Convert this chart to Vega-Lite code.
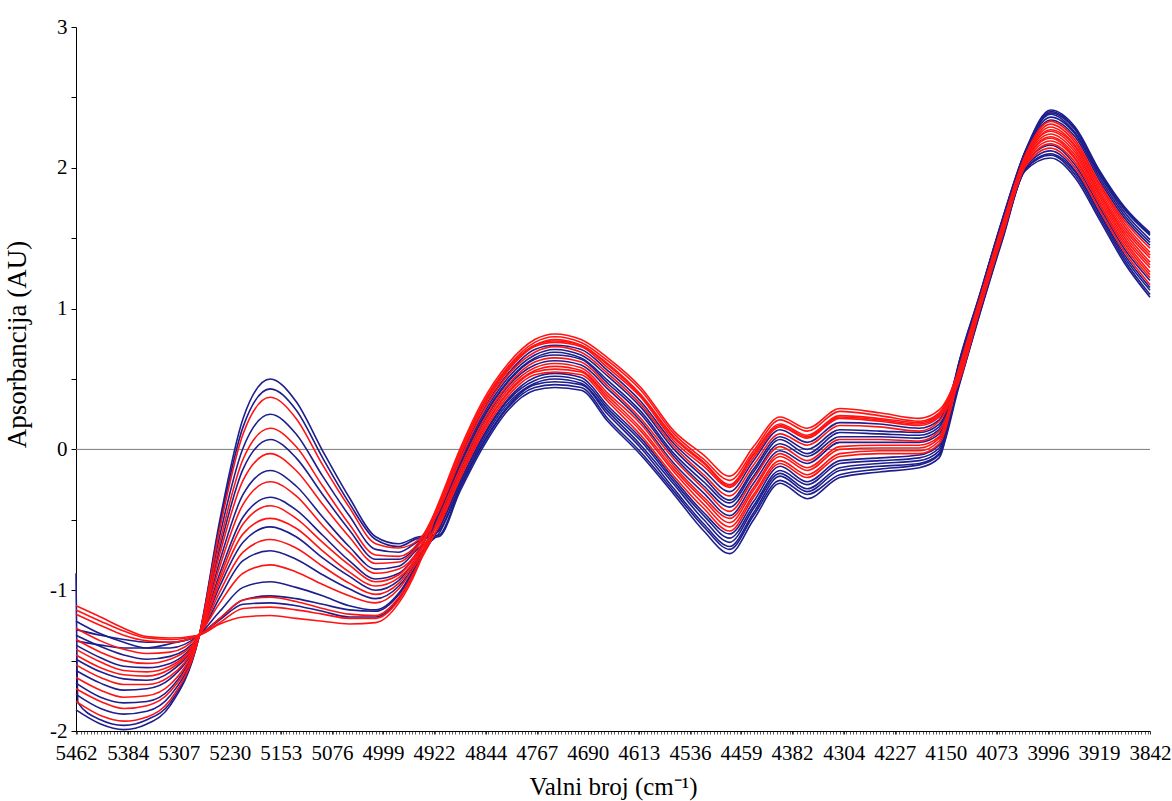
{
"$schema":"https://vega.github.io/schema/vega-lite/v6.json",
"width":1074,"height":704,
"autosize":{"type":"none"},
"padding":{"left":76,"top":27,"right":22,"bottom":70},
"config":{"view":{"stroke":null},"font":"Liberation Serif, Times New Roman, serif","axis":{"labelFont":"Liberation Serif, Times New Roman, serif","titleFont":"Liberation Serif, Times New Roman, serif"}},
"data":{"values":[
{"s":"b01","w":5462,"v":-1.85},{"s":"b01","w":5425,"v":-1.95},{"s":"b01","w":5390,"v":-1.99},{"s":"b01","w":5355,"v":-1.95},{"s":"b01","w":5320,"v":-1.82},{"s":"b01","w":5277,"v":-1.34},{"s":"b01","w":5245,"v":-0.5},{"s":"b01","w":5210,"v":0.22},{"s":"b01","w":5169,"v":0.5},{"s":"b01","w":5130,"v":0.34},{"s":"b01","w":5090,"v":-0.01},{"s":"b01","w":5050,"v":-0.34},{"s":"b01","w":5010,"v":-0.62},{"s":"b01","w":4975,"v":-0.67},{"s":"b01","w":4945,"v":-0.62},
{"s":"b01","w":4915,"v":-0.61},{"s":"b01","w":4883,"v":-0.28},{"s":"b01","w":4850,"v":0.02},{"s":"b01","w":4810,"v":0.3},{"s":"b01","w":4770,"v":0.44},{"s":"b01","w":4740,"v":0.46},{"s":"b01","w":4700,"v":0.44},{"s":"b01","w":4660,"v":0.22},{"s":"b01","w":4610,"v":-0.02},{"s":"b01","w":4560,"v":-0.3},{"s":"b01","w":4515,"v":-0.55},{"s":"b01","w":4476,"v":-0.71},{"s":"b01","w":4440,"v":-0.47},{"s":"b01","w":4400,"v":-0.22},{"s":"b01","w":4359,"v":-0.32},{"s":"b01","w":4310,"v":-0.18},{"s":"b01","w":4250,"v":-0.14},{"s":"b01","w":4190,"v":-0.11},{"s":"b01","w":4160,"v":-0.04},
{"s":"b01","w":4130,"v":0.61},{"s":"b01","w":4100,"v":1.07},{"s":"b01","w":4065,"v":1.62},{"s":"b01","w":4030,"v":2.11},{"s":"b01","w":3992,"v":2.39},{"s":"b01","w":3955,"v":2.27},{"s":"b01","w":3918,"v":1.96},{"s":"b01","w":3880,"v":1.7},{"s":"b01","w":3842,"v":1.52},
{"s":"b02","w":5462,"v":-0.88},{"s":"b02","w":5459,"v":-1.8},{"s":"b02","w":5425,"v":-1.92},{"s":"b02","w":5390,"v":-1.96},{"s":"b02","w":5355,"v":-1.92},{"s":"b02","w":5320,"v":-1.8},{"s":"b02","w":5277,"v":-1.34},{"s":"b02","w":5245,"v":-0.53},{"s":"b02","w":5210,"v":0.16},{"s":"b02","w":5169,"v":0.43},{"s":"b02","w":5130,"v":0.28},{"s":"b02","w":5090,"v":-0.06},{"s":"b02","w":5050,"v":-0.38},{"s":"b02","w":5010,"v":-0.64},{"s":"b02","w":4975,"v":-0.69},{"s":"b02","w":4945,"v":-0.63},
{"s":"b02","w":4915,"v":-0.62},{"s":"b02","w":4883,"v":-0.3},{"s":"b02","w":4850,"v":0},{"s":"b02","w":4810,"v":0.28},{"s":"b02","w":4770,"v":0.42},{"s":"b02","w":4740,"v":0.44},{"s":"b02","w":4700,"v":0.42},{"s":"b02","w":4660,"v":0.2},{"s":"b02","w":4610,"v":-0.04},{"s":"b02","w":4560,"v":-0.32},{"s":"b02","w":4515,"v":-0.58},{"s":"b02","w":4476,"v":-0.74},{"s":"b02","w":4440,"v":-0.5},{"s":"b02","w":4400,"v":-0.24},{"s":"b02","w":4359,"v":-0.35},{"s":"b02","w":4310,"v":-0.2},{"s":"b02","w":4250,"v":-0.16},{"s":"b02","w":4190,"v":-0.13},{"s":"b02","w":4160,"v":-0.06},
{"s":"b02","w":4130,"v":0.62},{"s":"b02","w":4100,"v":1.08},{"s":"b02","w":4065,"v":1.63},{"s":"b02","w":4030,"v":2.12},{"s":"b02","w":3992,"v":2.41},{"s":"b02","w":3955,"v":2.29},{"s":"b02","w":3918,"v":1.98},{"s":"b02","w":3880,"v":1.72},{"s":"b02","w":3842,"v":1.54},
{"s":"b04","w":5462,"v":-1.74},{"s":"b04","w":5425,"v":-1.84},{"s":"b04","w":5390,"v":-1.88},{"s":"b04","w":5355,"v":-1.86},{"s":"b04","w":5320,"v":-1.75},{"s":"b04","w":5277,"v":-1.34},{"s":"b04","w":5245,"v":-0.61},{"s":"b04","w":5210,"v":0.01},{"s":"b04","w":5169,"v":0.25},{"s":"b04","w":5130,"v":0.11},{"s":"b04","w":5090,"v":-0.19},{"s":"b04","w":5050,"v":-0.47},{"s":"b04","w":5010,"v":-0.71},{"s":"b04","w":4975,"v":-0.73},{"s":"b04","w":4945,"v":-0.65},
{"s":"b04","w":4915,"v":-0.58},{"s":"b04","w":4883,"v":-0.26},{"s":"b04","w":4850,"v":0.05},{"s":"b04","w":4810,"v":0.33},{"s":"b04","w":4770,"v":0.47},{"s":"b04","w":4740,"v":0.5},{"s":"b04","w":4700,"v":0.47},{"s":"b04","w":4660,"v":0.27},{"s":"b04","w":4610,"v":0.03},{"s":"b04","w":4560,"v":-0.25},{"s":"b04","w":4515,"v":-0.5},{"s":"b04","w":4476,"v":-0.66},{"s":"b04","w":4440,"v":-0.42},{"s":"b04","w":4400,"v":-0.17},{"s":"b04","w":4359,"v":-0.28},{"s":"b04","w":4310,"v":-0.13},{"s":"b04","w":4250,"v":-0.1},{"s":"b04","w":4190,"v":-0.08},{"s":"b04","w":4160,"v":-0.01},
{"s":"b04","w":4130,"v":0.47},{"s":"b04","w":4100,"v":0.95},{"s":"b04","w":4065,"v":1.5},{"s":"b04","w":4030,"v":1.99},{"s":"b04","w":3992,"v":2.1},{"s":"b04","w":3955,"v":1.97},{"s":"b04","w":3918,"v":1.67},{"s":"b04","w":3880,"v":1.36},{"s":"b04","w":3842,"v":1.13},
{"s":"b06","w":5462,"v":-1.66},{"s":"b06","w":5425,"v":-1.76},{"s":"b06","w":5390,"v":-1.8},{"s":"b06","w":5355,"v":-1.79},{"s":"b06","w":5320,"v":-1.7},{"s":"b06","w":5277,"v":-1.33},{"s":"b06","w":5245,"v":-0.7},{"s":"b06","w":5210,"v":-0.14},{"s":"b06","w":5169,"v":0.07},{"s":"b06","w":5130,"v":-0.06},{"s":"b06","w":5090,"v":-0.32},{"s":"b06","w":5050,"v":-0.57},{"s":"b06","w":5010,"v":-0.78},{"s":"b06","w":4975,"v":-0.78},{"s":"b06","w":4945,"v":-0.67},
{"s":"b06","w":4915,"v":-0.43},{"s":"b06","w":4883,"v":-0.06},{"s":"b06","w":4850,"v":0.26},{"s":"b06","w":4810,"v":0.54},{"s":"b06","w":4770,"v":0.71},{"s":"b06","w":4740,"v":0.74},{"s":"b06","w":4700,"v":0.71},{"s":"b06","w":4660,"v":0.56},{"s":"b06","w":4610,"v":0.34},{"s":"b06","w":4560,"v":0.04},{"s":"b06","w":4515,"v":-0.15},{"s":"b06","w":4476,"v":-0.3},{"s":"b06","w":4440,"v":-0.08},{"s":"b06","w":4400,"v":0.14},{"s":"b06","w":4359,"v":0.05},{"s":"b06","w":4310,"v":0.19},{"s":"b06","w":4250,"v":0.18},{"s":"b06","w":4190,"v":0.15},{"s":"b06","w":4160,"v":0.21},
{"s":"b06","w":4130,"v":0.59},{"s":"b06","w":4100,"v":1.06},{"s":"b06","w":4065,"v":1.61},{"s":"b06","w":4030,"v":2.1},{"s":"b06","w":3992,"v":2.36},{"s":"b06","w":3955,"v":2.24},{"s":"b06","w":3918,"v":1.93},{"s":"b06","w":3880,"v":1.66},{"s":"b06","w":3842,"v":1.47},
{"s":"b08","w":5462,"v":-1.57},{"s":"b08","w":5425,"v":-1.66},{"s":"b08","w":5390,"v":-1.71},{"s":"b08","w":5355,"v":-1.7},{"s":"b08","w":5320,"v":-1.63},{"s":"b08","w":5277,"v":-1.33},{"s":"b08","w":5245,"v":-0.79},{"s":"b08","w":5210,"v":-0.32},{"s":"b08","w":5169,"v":-0.15},{"s":"b08","w":5130,"v":-0.26},{"s":"b08","w":5090,"v":-0.48},{"s":"b08","w":5050,"v":-0.69},{"s":"b08","w":5010,"v":-0.85},{"s":"b08","w":4975,"v":-0.83},{"s":"b08","w":4945,"v":-0.7},
{"s":"b08","w":4915,"v":-0.6},{"s":"b08","w":4883,"v":-0.27},{"s":"b08","w":4850,"v":0.03},{"s":"b08","w":4810,"v":0.31},{"s":"b08","w":4770,"v":0.46},{"s":"b08","w":4740,"v":0.48},{"s":"b08","w":4700,"v":0.46},{"s":"b08","w":4660,"v":0.25},{"s":"b08","w":4610,"v":0.01},{"s":"b08","w":4560,"v":-0.28},{"s":"b08","w":4515,"v":-0.53},{"s":"b08","w":4476,"v":-0.69},{"s":"b08","w":4440,"v":-0.45},{"s":"b08","w":4400,"v":-0.19},{"s":"b08","w":4359,"v":-0.3},{"s":"b08","w":4310,"v":-0.15},{"s":"b08","w":4250,"v":-0.12},{"s":"b08","w":4190,"v":-0.1},{"s":"b08","w":4160,"v":-0.03},
{"s":"b08","w":4130,"v":0.45},{"s":"b08","w":4100,"v":0.94},{"s":"b08","w":4065,"v":1.48},{"s":"b08","w":4030,"v":1.98},{"s":"b08","w":3992,"v":2.07},{"s":"b08","w":3955,"v":1.93},{"s":"b08","w":3918,"v":1.63},{"s":"b08","w":3880,"v":1.32},{"s":"b08","w":3842,"v":1.08},
{"s":"b10","w":5462,"v":-1.49},{"s":"b10","w":5425,"v":-1.58},{"s":"b10","w":5390,"v":-1.63},{"s":"b10","w":5355,"v":-1.64},{"s":"b10","w":5320,"v":-1.58},{"s":"b10","w":5277,"v":-1.33},{"s":"b10","w":5245,"v":-0.88},{"s":"b10","w":5210,"v":-0.48},{"s":"b10","w":5169,"v":-0.34},{"s":"b10","w":5130,"v":-0.43},{"s":"b10","w":5090,"v":-0.61},{"s":"b10","w":5050,"v":-0.79},{"s":"b10","w":5010,"v":-0.92},{"s":"b10","w":4975,"v":-0.88},{"s":"b10","w":4945,"v":-0.72},
{"s":"b10","w":4915,"v":-0.46},{"s":"b10","w":4883,"v":-0.11},{"s":"b10","w":4850,"v":0.21},{"s":"b10","w":4810,"v":0.49},{"s":"b10","w":4770,"v":0.65},{"s":"b10","w":4740,"v":0.69},{"s":"b10","w":4700,"v":0.65},{"s":"b10","w":4660,"v":0.49},{"s":"b10","w":4610,"v":0.27},{"s":"b10","w":4560,"v":-0.03},{"s":"b10","w":4515,"v":-0.23},{"s":"b10","w":4476,"v":-0.38},{"s":"b10","w":4440,"v":-0.16},{"s":"b10","w":4400,"v":0.07},{"s":"b10","w":4359,"v":-0.03},{"s":"b10","w":4310,"v":0.12},{"s":"b10","w":4250,"v":0.11},{"s":"b10","w":4190,"v":0.1},{"s":"b10","w":4160,"v":0.16},
{"s":"b10","w":4130,"v":0.59},{"s":"b10","w":4100,"v":1.05},{"s":"b10","w":4065,"v":1.6},{"s":"b10","w":4030,"v":2.09},{"s":"b10","w":3992,"v":2.34},{"s":"b10","w":3955,"v":2.22},{"s":"b10","w":3918,"v":1.91},{"s":"b10","w":3880,"v":1.64},{"s":"b10","w":3842,"v":1.45},
{"s":"b13","w":5462,"v":-1.39},{"s":"b13","w":5425,"v":-1.48},{"s":"b13","w":5390,"v":-1.54},{"s":"b13","w":5355,"v":-1.55},{"s":"b13","w":5320,"v":-1.52},{"s":"b13","w":5277,"v":-1.33},{"s":"b13","w":5245,"v":-0.97},{"s":"b13","w":5210,"v":-0.66},{"s":"b13","w":5169,"v":-0.55},{"s":"b13","w":5130,"v":-0.62},{"s":"b13","w":5090,"v":-0.77},{"s":"b13","w":5050,"v":-0.9},{"s":"b13","w":5010,"v":-1},{"s":"b13","w":4975,"v":-0.93},{"s":"b13","w":4945,"v":-0.75},
{"s":"b13","w":4915,"v":-0.57},{"s":"b13","w":4883,"v":-0.24},{"s":"b13","w":4850,"v":0.07},{"s":"b13","w":4810,"v":0.35},{"s":"b13","w":4770,"v":0.49},{"s":"b13","w":4740,"v":0.52},{"s":"b13","w":4700,"v":0.49},{"s":"b13","w":4660,"v":0.29},{"s":"b13","w":4610,"v":0.06},{"s":"b13","w":4560,"v":-0.23},{"s":"b13","w":4515,"v":-0.47},{"s":"b13","w":4476,"v":-0.63},{"s":"b13","w":4440,"v":-0.4},{"s":"b13","w":4400,"v":-0.15},{"s":"b13","w":4359,"v":-0.25},{"s":"b13","w":4310,"v":-0.1},{"s":"b13","w":4250,"v":-0.08},{"s":"b13","w":4190,"v":-0.06},{"s":"b13","w":4160,"v":0.01},
{"s":"b13","w":4130,"v":0.6},{"s":"b13","w":4100,"v":1.07},{"s":"b13","w":4065,"v":1.62},{"s":"b13","w":4030,"v":2.11},{"s":"b13","w":3992,"v":2.38},{"s":"b13","w":3955,"v":2.25},{"s":"b13","w":3918,"v":1.95},{"s":"b13","w":3880,"v":1.68},{"s":"b13","w":3842,"v":1.49},
{"s":"b15","w":5462,"v":-1.32},{"s":"b15","w":5425,"v":-1.4},{"s":"b15","w":5390,"v":-1.46},{"s":"b15","w":5355,"v":-1.49},{"s":"b15","w":5320,"v":-1.47},{"s":"b15","w":5277,"v":-1.33},{"s":"b15","w":5245,"v":-1.05},{"s":"b15","w":5210,"v":-0.79},{"s":"b15","w":5169,"v":-0.72},{"s":"b15","w":5130,"v":-0.78},{"s":"b15","w":5090,"v":-0.89},{"s":"b15","w":5050,"v":-0.99},{"s":"b15","w":5010,"v":-1.06},{"s":"b15","w":4975,"v":-0.97},{"s":"b15","w":4945,"v":-0.77},
{"s":"b15","w":4915,"v":-0.48},{"s":"b15","w":4883,"v":-0.12},{"s":"b15","w":4850,"v":0.2},{"s":"b15","w":4810,"v":0.48},{"s":"b15","w":4770,"v":0.64},{"s":"b15","w":4740,"v":0.67},{"s":"b15","w":4700,"v":0.64},{"s":"b15","w":4660,"v":0.47},{"s":"b15","w":4610,"v":0.25},{"s":"b15","w":4560,"v":-0.05},{"s":"b15","w":4515,"v":-0.26},{"s":"b15","w":4476,"v":-0.41},{"s":"b15","w":4440,"v":-0.19},{"s":"b15","w":4400,"v":0.04},{"s":"b15","w":4359,"v":-0.05},{"s":"b15","w":4310,"v":0.09},{"s":"b15","w":4250,"v":0.09},{"s":"b15","w":4190,"v":0.08},{"s":"b15","w":4160,"v":0.14},
{"s":"b15","w":4130,"v":0.49},{"s":"b15","w":4100,"v":0.98},{"s":"b15","w":4065,"v":1.52},{"s":"b15","w":4030,"v":2.02},{"s":"b15","w":3992,"v":2.16},{"s":"b15","w":3955,"v":2.02},{"s":"b15","w":3918,"v":1.72},{"s":"b15","w":3880,"v":1.42},{"s":"b15","w":3842,"v":1.2},
{"s":"b17","w":5462,"v":-1.22},{"s":"b17","w":5425,"v":-1.31},{"s":"b17","w":5390,"v":-1.37},{"s":"b17","w":5355,"v":-1.41},{"s":"b17","w":5320,"v":-1.41},{"s":"b17","w":5277,"v":-1.32},{"s":"b17","w":5245,"v":-1.15},{"s":"b17","w":5210,"v":-0.98},{"s":"b17","w":5169,"v":-0.94},{"s":"b17","w":5130,"v":-0.98},{"s":"b17","w":5090,"v":-1.04},{"s":"b17","w":5050,"v":-1.11},{"s":"b17","w":5010,"v":-1.14},{"s":"b17","w":4975,"v":-1.02},{"s":"b17","w":4945,"v":-0.79},
{"s":"b17","w":4915,"v":-0.56},{"s":"b17","w":4883,"v":-0.23},{"s":"b17","w":4850,"v":0.08},{"s":"b17","w":4810,"v":0.36},{"s":"b17","w":4770,"v":0.51},{"s":"b17","w":4740,"v":0.54},{"s":"b17","w":4700,"v":0.51},{"s":"b17","w":4660,"v":0.31},{"s":"b17","w":4610,"v":0.08},{"s":"b17","w":4560,"v":-0.21},{"s":"b17","w":4515,"v":-0.45},{"s":"b17","w":4476,"v":-0.6},{"s":"b17","w":4440,"v":-0.37},{"s":"b17","w":4400,"v":-0.12},{"s":"b17","w":4359,"v":-0.23},{"s":"b17","w":4310,"v":-0.08},{"s":"b17","w":4250,"v":-0.06},{"s":"b17","w":4190,"v":-0.04},{"s":"b17","w":4160,"v":0.03},
{"s":"b17","w":4130,"v":0.46},{"s":"b17","w":4100,"v":0.95},{"s":"b17","w":4065,"v":1.49},{"s":"b17","w":4030,"v":1.99},{"s":"b17","w":3992,"v":2.09},{"s":"b17","w":3955,"v":1.95},{"s":"b17","w":3918,"v":1.65},{"s":"b17","w":3880,"v":1.34},{"s":"b17","w":3842,"v":1.1},
{"s":"b19","w":5462,"v":-1.28},{"s":"b19","w":5425,"v":-1.32},{"s":"b19","w":5390,"v":-1.35},{"s":"b19","w":5355,"v":-1.37},{"s":"b19","w":5320,"v":-1.37},{"s":"b19","w":5277,"v":-1.32},{"s":"b19","w":5245,"v":-1.21},{"s":"b19","w":5210,"v":-1.1},{"s":"b19","w":5169,"v":-1.09},{"s":"b19","w":5130,"v":-1.11},{"s":"b19","w":5090,"v":-1.15},{"s":"b19","w":5050,"v":-1.19},{"s":"b19","w":5010,"v":-1.19},{"s":"b19","w":4975,"v":-1.06},{"s":"b19","w":4945,"v":-0.81},
{"s":"b19","w":4915,"v":-0.45},{"s":"b19","w":4883,"v":-0.09},{"s":"b19","w":4850,"v":0.23},{"s":"b19","w":4810,"v":0.51},{"s":"b19","w":4770,"v":0.67},{"s":"b19","w":4740,"v":0.71},{"s":"b19","w":4700,"v":0.67},{"s":"b19","w":4660,"v":0.52},{"s":"b19","w":4610,"v":0.3},{"s":"b19","w":4560,"v":0},{"s":"b19","w":4515,"v":-0.2},{"s":"b19","w":4476,"v":-0.36},{"s":"b19","w":4440,"v":-0.14},{"s":"b19","w":4400,"v":0.09},{"s":"b19","w":4359,"v":0},{"s":"b19","w":4310,"v":0.14},{"s":"b19","w":4250,"v":0.13},{"s":"b19","w":4190,"v":0.12},{"s":"b19","w":4160,"v":0.18},
{"s":"b19","w":4130,"v":0.48},{"s":"b19","w":4100,"v":0.96},{"s":"b19","w":4065,"v":1.5},{"s":"b19","w":4030,"v":2},{"s":"b19","w":3992,"v":2.12},{"s":"b19","w":3955,"v":1.98},{"s":"b19","w":3918,"v":1.68},{"s":"b19","w":3880,"v":1.38},{"s":"b19","w":3842,"v":1.15},
{"s":"b22","w":5462,"v":-1.36},{"s":"b22","w":5425,"v":-1.39},{"s":"b22","w":5390,"v":-1.41},{"s":"b22","w":5355,"v":-1.41},{"s":"b22","w":5320,"v":-1.38},{"s":"b22","w":5277,"v":-1.32},{"s":"b22","w":5245,"v":-1.2},{"s":"b22","w":5210,"v":-1.07},{"s":"b22","w":5169,"v":-1.04},{"s":"b22","w":5130,"v":-1.06},{"s":"b22","w":5090,"v":-1.1},{"s":"b22","w":5050,"v":-1.14},{"s":"b22","w":5010,"v":-1.15},{"s":"b22","w":4975,"v":-1.03},{"s":"b22","w":4945,"v":-0.8},
{"s":"b22","w":4915,"v":-0.5},{"s":"b22","w":4883,"v":-0.15},{"s":"b22","w":4850,"v":0.17},{"s":"b22","w":4810,"v":0.45},{"s":"b22","w":4770,"v":0.6},{"s":"b22","w":4740,"v":0.63},{"s":"b22","w":4700,"v":0.6},{"s":"b22","w":4660,"v":0.43},{"s":"b22","w":4610,"v":0.2},{"s":"b22","w":4560,"v":-0.1},{"s":"b22","w":4515,"v":-0.31},{"s":"b22","w":4476,"v":-0.47},{"s":"b22","w":4440,"v":-0.24},{"s":"b22","w":4400,"v":-0.01},{"s":"b22","w":4359,"v":-0.1},{"s":"b22","w":4310,"v":0.05},{"s":"b22","w":4250,"v":0.05},{"s":"b22","w":4190,"v":0.05},{"s":"b22","w":4160,"v":0.11},
{"s":"b22","w":4130,"v":0.62},{"s":"b22","w":4100,"v":1.08},{"s":"b22","w":4065,"v":1.63},{"s":"b22","w":4030,"v":2.12},{"s":"b22","w":3992,"v":2.4},{"s":"b22","w":3955,"v":2.28},{"s":"b22","w":3918,"v":1.97},{"s":"b22","w":3880,"v":1.71},{"s":"b22","w":3842,"v":1.53},
{"s":"r03","w":5462,"v":-1.79},{"s":"r03","w":5425,"v":-1.89},{"s":"r03","w":5390,"v":-1.93},{"s":"r03","w":5355,"v":-1.9},{"s":"r03","w":5320,"v":-1.78},{"s":"r03","w":5277,"v":-1.34},{"s":"r03","w":5245,"v":-0.56},{"s":"r03","w":5210,"v":0.11},{"s":"r03","w":5169,"v":0.37},{"s":"r03","w":5130,"v":0.22},{"s":"r03","w":5090,"v":-0.11},{"s":"r03","w":5050,"v":-0.41},{"s":"r03","w":5010,"v":-0.67},{"s":"r03","w":4975,"v":-0.7},{"s":"r03","w":4945,"v":-0.64},
{"s":"r03","w":4915,"v":-0.42},{"s":"r03","w":4883,"v":-0.05},{"s":"r03","w":4850,"v":0.28},{"s":"r03","w":4810,"v":0.56},{"s":"r03","w":4770,"v":0.73},{"s":"r03","w":4740,"v":0.76},{"s":"r03","w":4700,"v":0.73},{"s":"r03","w":4660,"v":0.58},{"s":"r03","w":4610,"v":0.37},{"s":"r03","w":4560,"v":0.06},{"s":"r03","w":4515,"v":-0.12},{"s":"r03","w":4476,"v":-0.27},{"s":"r03","w":4440,"v":-0.06},{"s":"r03","w":4400,"v":0.16},{"s":"r03","w":4359,"v":0.08},{"s":"r03","w":4310,"v":0.22},{"s":"r03","w":4250,"v":0.2},{"s":"r03","w":4190,"v":0.17},{"s":"r03","w":4160,"v":0.23},
{"s":"r03","w":4130,"v":0.54},{"s":"r03","w":4100,"v":1.02},{"s":"r03","w":4065,"v":1.56},{"s":"r03","w":4030,"v":2.06},{"s":"r03","w":3992,"v":2.26},{"s":"r03","w":3955,"v":2.13},{"s":"r03","w":3918,"v":1.82},{"s":"r03","w":3880,"v":1.54},{"s":"r03","w":3842,"v":1.33},
{"s":"r05","w":5462,"v":-1.7},{"s":"r05","w":5425,"v":-1.79},{"s":"r05","w":5390,"v":-1.84},{"s":"r05","w":5355,"v":-1.82},{"s":"r05","w":5320,"v":-1.72},{"s":"r05","w":5277,"v":-1.34},{"s":"r05","w":5245,"v":-0.66},{"s":"r05","w":5210,"v":-0.07},{"s":"r05","w":5169,"v":0.15},{"s":"r05","w":5130,"v":0.02},{"s":"r05","w":5090,"v":-0.26},{"s":"r05","w":5050,"v":-0.53},{"s":"r05","w":5010,"v":-0.75},{"s":"r05","w":4975,"v":-0.76},{"s":"r05","w":4945,"v":-0.66},
{"s":"r05","w":4915,"v":-0.39},{"s":"r05","w":4883,"v":-0.02},{"s":"r05","w":4850,"v":0.31},{"s":"r05","w":4810,"v":0.59},{"s":"r05","w":4770,"v":0.76},{"s":"r05","w":4740,"v":0.8},{"s":"r05","w":4700,"v":0.76},{"s":"r05","w":4660,"v":0.63},{"s":"r05","w":4610,"v":0.42},{"s":"r05","w":4560,"v":0.11},{"s":"r05","w":4515,"v":-0.07},{"s":"r05","w":4476,"v":-0.22},{"s":"r05","w":4440,"v":-0.01},{"s":"r05","w":4400,"v":0.21},{"s":"r05","w":4359,"v":0.13},{"s":"r05","w":4310,"v":0.27},{"s":"r05","w":4250,"v":0.24},{"s":"r05","w":4190,"v":0.2},{"s":"r05","w":4160,"v":0.26},
{"s":"r05","w":4130,"v":0.57},{"s":"r05","w":4100,"v":1.04},{"s":"r05","w":4065,"v":1.59},{"s":"r05","w":4030,"v":2.08},{"s":"r05","w":3992,"v":2.31},{"s":"r05","w":3955,"v":2.18},{"s":"r05","w":3918,"v":1.88},{"s":"r05","w":3880,"v":1.6},{"s":"r05","w":3842,"v":1.4},
{"s":"r07","w":5462,"v":-1.62},{"s":"r07","w":5425,"v":-1.71},{"s":"r07","w":5390,"v":-1.76},{"s":"r07","w":5355,"v":-1.75},{"s":"r07","w":5320,"v":-1.67},{"s":"r07","w":5277,"v":-1.33},{"s":"r07","w":5245,"v":-0.74},{"s":"r07","w":5210,"v":-0.22},{"s":"r07","w":5169,"v":-0.03},{"s":"r07","w":5130,"v":-0.15},{"s":"r07","w":5090,"v":-0.39},{"s":"r07","w":5050,"v":-0.62},{"s":"r07","w":5010,"v":-0.81},{"s":"r07","w":4975,"v":-0.8},{"s":"r07","w":4945,"v":-0.68},
{"s":"r07","w":4915,"v":-0.44},{"s":"r07","w":4883,"v":-0.08},{"s":"r07","w":4850,"v":0.25},{"s":"r07","w":4810,"v":0.53},{"s":"r07","w":4770,"v":0.69},{"s":"r07","w":4740,"v":0.73},{"s":"r07","w":4700,"v":0.69},{"s":"r07","w":4660,"v":0.54},{"s":"r07","w":4610,"v":0.32},{"s":"r07","w":4560,"v":0.02},{"s":"r07","w":4515,"v":-0.18},{"s":"r07","w":4476,"v":-0.33},{"s":"r07","w":4440,"v":-0.11},{"s":"r07","w":4400,"v":0.11},{"s":"r07","w":4359,"v":0.03},{"s":"r07","w":4310,"v":0.17},{"s":"r07","w":4250,"v":0.16},{"s":"r07","w":4190,"v":0.13},{"s":"r07","w":4160,"v":0.2},
{"s":"r07","w":4130,"v":0.51},{"s":"r07","w":4100,"v":0.99},{"s":"r07","w":4065,"v":1.53},{"s":"r07","w":4030,"v":2.03},{"s":"r07","w":3992,"v":2.19},{"s":"r07","w":3955,"v":2.06},{"s":"r07","w":3918,"v":1.75},{"s":"r07","w":3880,"v":1.46},{"s":"r07","w":3842,"v":1.24},
{"s":"r09","w":5462,"v":-1.53},{"s":"r09","w":5425,"v":-1.62},{"s":"r09","w":5390,"v":-1.67},{"s":"r09","w":5355,"v":-1.67},{"s":"r09","w":5320,"v":-1.61},{"s":"r09","w":5277,"v":-1.33},{"s":"r09","w":5245,"v":-0.83},{"s":"r09","w":5210,"v":-0.39},{"s":"r09","w":5169,"v":-0.23},{"s":"r09","w":5130,"v":-0.33},{"s":"r09","w":5090,"v":-0.54},{"s":"r09","w":5050,"v":-0.73},{"s":"r09","w":5010,"v":-0.88},{"s":"r09","w":4975,"v":-0.85},{"s":"r09","w":4945,"v":-0.71},
{"s":"r09","w":4915,"v":-0.38},{"s":"r09","w":4883,"v":0},{"s":"r09","w":4850,"v":0.33},{"s":"r09","w":4810,"v":0.61},{"s":"r09","w":4770,"v":0.78},{"s":"r09","w":4740,"v":0.82},{"s":"r09","w":4700,"v":0.78},{"s":"r09","w":4660,"v":0.65},{"s":"r09","w":4610,"v":0.44},{"s":"r09","w":4560,"v":0.13},{"s":"r09","w":4515,"v":-0.04},{"s":"r09","w":4476,"v":-0.19},{"s":"r09","w":4440,"v":0.02},{"s":"r09","w":4400,"v":0.23},{"s":"r09","w":4359,"v":0.15},{"s":"r09","w":4310,"v":0.29},{"s":"r09","w":4250,"v":0.26},{"s":"r09","w":4190,"v":0.22},{"s":"r09","w":4160,"v":0.28},
{"s":"r09","w":4130,"v":0.55},{"s":"r09","w":4100,"v":1.02},{"s":"r09","w":4065,"v":1.57},{"s":"r09","w":4030,"v":2.06},{"s":"r09","w":3992,"v":2.27},{"s":"r09","w":3955,"v":2.15},{"s":"r09","w":3918,"v":1.84},{"s":"r09","w":3880,"v":1.56},{"s":"r09","w":3842,"v":1.36},
{"s":"r11","w":5462,"v":-1.46},{"s":"r11","w":5425,"v":-1.55},{"s":"r11","w":5390,"v":-1.6},{"s":"r11","w":5355,"v":-1.61},{"s":"r11","w":5320,"v":-1.56},{"s":"r11","w":5277,"v":-1.33},{"s":"r11","w":5245,"v":-0.91},{"s":"r11","w":5210,"v":-0.53},{"s":"r11","w":5169,"v":-0.4},{"s":"r11","w":5130,"v":-0.49},{"s":"r11","w":5090,"v":-0.66},{"s":"r11","w":5050,"v":-0.82},{"s":"r11","w":5010,"v":-0.94},{"s":"r11","w":4975,"v":-0.89},{"s":"r11","w":4945,"v":-0.73},
{"s":"r11","w":4915,"v":-0.52},{"s":"r11","w":4883,"v":-0.18},{"s":"r11","w":4850,"v":0.13},{"s":"r11","w":4810,"v":0.41},{"s":"r11","w":4770,"v":0.56},{"s":"r11","w":4740,"v":0.59},{"s":"r11","w":4700,"v":0.56},{"s":"r11","w":4660,"v":0.38},{"s":"r11","w":4610,"v":0.15},{"s":"r11","w":4560,"v":-0.14},{"s":"r11","w":4515,"v":-0.36},{"s":"r11","w":4476,"v":-0.52},{"s":"r11","w":4440,"v":-0.29},{"s":"r11","w":4400,"v":-0.05},{"s":"r11","w":4359,"v":-0.15},{"s":"r11","w":4310,"v":0},{"s":"r11","w":4250,"v":0.01},{"s":"r11","w":4190,"v":0.01},{"s":"r11","w":4160,"v":0.08},
{"s":"r11","w":4130,"v":0.58},{"s":"r11","w":4100,"v":1.05},{"s":"r11","w":4065,"v":1.59},{"s":"r11","w":4030,"v":2.09},{"s":"r11","w":3992,"v":2.33},{"s":"r11","w":3955,"v":2.2},{"s":"r11","w":3918,"v":1.89},{"s":"r11","w":3880,"v":1.62},{"s":"r11","w":3842,"v":1.43},
{"s":"r12","w":5462,"v":-1.42},{"s":"r12","w":5425,"v":-1.51},{"s":"r12","w":5390,"v":-1.57},{"s":"r12","w":5355,"v":-1.58},{"s":"r12","w":5320,"v":-1.54},{"s":"r12","w":5277,"v":-1.33},{"s":"r12","w":5245,"v":-0.94},{"s":"r12","w":5210,"v":-0.6},{"s":"r12","w":5169,"v":-0.49},{"s":"r12","w":5130,"v":-0.56},{"s":"r12","w":5090,"v":-0.72},{"s":"r12","w":5050,"v":-0.87},{"s":"r12","w":5010,"v":-0.97},{"s":"r12","w":4975,"v":-0.91},{"s":"r12","w":4945,"v":-0.74},
{"s":"r12","w":4915,"v":-0.4},{"s":"r12","w":4883,"v":-0.03},{"s":"r12","w":4850,"v":0.3},{"s":"r12","w":4810,"v":0.58},{"s":"r12","w":4770,"v":0.74},{"s":"r12","w":4740,"v":0.78},{"s":"r12","w":4700,"v":0.74},{"s":"r12","w":4660,"v":0.61},{"s":"r12","w":4610,"v":0.39},{"s":"r12","w":4560,"v":0.09},{"s":"r12","w":4515,"v":-0.09},{"s":"r12","w":4476,"v":-0.25},{"s":"r12","w":4440,"v":-0.03},{"s":"r12","w":4400,"v":0.18},{"s":"r12","w":4359,"v":0.1},{"s":"r12","w":4310,"v":0.24},{"s":"r12","w":4250,"v":0.22},{"s":"r12","w":4190,"v":0.19},{"s":"r12","w":4160,"v":0.25},
{"s":"r12","w":4130,"v":0.53},{"s":"r12","w":4100,"v":1},{"s":"r12","w":4065,"v":1.55},{"s":"r12","w":4030,"v":2.04},{"s":"r12","w":3992,"v":2.22},{"s":"r12","w":3955,"v":2.09},{"s":"r12","w":3918,"v":1.79},{"s":"r12","w":3880,"v":1.5},{"s":"r12","w":3842,"v":1.29},
{"s":"r14","w":5462,"v":-1.35},{"s":"r14","w":5425,"v":-1.44},{"s":"r14","w":5390,"v":-1.5},{"s":"r14","w":5355,"v":-1.52},{"s":"r14","w":5320,"v":-1.49},{"s":"r14","w":5277,"v":-1.33},{"s":"r14","w":5245,"v":-1.01},{"s":"r14","w":5210,"v":-0.73},{"s":"r14","w":5169,"v":-0.64},{"s":"r14","w":5130,"v":-0.7},{"s":"r14","w":5090,"v":-0.83},{"s":"r14","w":5050,"v":-0.95},{"s":"r14","w":5010,"v":-1.03},{"s":"r14","w":4975,"v":-0.95},{"s":"r14","w":4945,"v":-0.76},
{"s":"r14","w":4915,"v":-0.51},{"s":"r14","w":4883,"v":-0.17},{"s":"r14","w":4850,"v":0.15},{"s":"r14","w":4810,"v":0.43},{"s":"r14","w":4770,"v":0.58},{"s":"r14","w":4740,"v":0.61},{"s":"r14","w":4700,"v":0.58},{"s":"r14","w":4660,"v":0.4},{"s":"r14","w":4610,"v":0.18},{"s":"r14","w":4560,"v":-0.12},{"s":"r14","w":4515,"v":-0.34},{"s":"r14","w":4476,"v":-0.49},{"s":"r14","w":4440,"v":-0.27},{"s":"r14","w":4400,"v":-0.03},{"s":"r14","w":4359,"v":-0.13},{"s":"r14","w":4310,"v":0.02},{"s":"r14","w":4250,"v":0.03},{"s":"r14","w":4190,"v":0.03},{"s":"r14","w":4160,"v":0.09},
{"s":"r14","w":4130,"v":0.56},{"s":"r14","w":4100,"v":1.03},{"s":"r14","w":4065,"v":1.58},{"s":"r14","w":4030,"v":2.07},{"s":"r14","w":3992,"v":2.29},{"s":"r14","w":3955,"v":2.16},{"s":"r14","w":3918,"v":1.86},{"s":"r14","w":3880,"v":1.58},{"s":"r14","w":3842,"v":1.38},
{"s":"r16","w":5462,"v":-1.27},{"s":"r16","w":5425,"v":-1.36},{"s":"r16","w":5390,"v":-1.42},{"s":"r16","w":5355,"v":-1.45},{"s":"r16","w":5320,"v":-1.44},{"s":"r16","w":5277,"v":-1.32},{"s":"r16","w":5245,"v":-1.09},{"s":"r16","w":5210,"v":-0.88},{"s":"r16","w":5169,"v":-0.82},{"s":"r16","w":5130,"v":-0.87},{"s":"r16","w":5090,"v":-0.96},{"s":"r16","w":5050,"v":-1.04},{"s":"r16","w":5010,"v":-1.09},{"s":"r16","w":4975,"v":-0.99},{"s":"r16","w":4945,"v":-0.78},
{"s":"r16","w":4915,"v":-0.55},{"s":"r16","w":4883,"v":-0.21},{"s":"r16","w":4850,"v":0.1},{"s":"r16","w":4810,"v":0.38},{"s":"r16","w":4770,"v":0.53},{"s":"r16","w":4740,"v":0.55},{"s":"r16","w":4700,"v":0.53},{"s":"r16","w":4660,"v":0.34},{"s":"r16","w":4610,"v":0.1},{"s":"r16","w":4560,"v":-0.19},{"s":"r16","w":4515,"v":-0.42},{"s":"r16","w":4476,"v":-0.58},{"s":"r16","w":4440,"v":-0.34},{"s":"r16","w":4400,"v":-0.1},{"s":"r16","w":4359,"v":-0.2},{"s":"r16","w":4310,"v":-0.05},{"s":"r16","w":4250,"v":-0.03},{"s":"r16","w":4190,"v":-0.03},{"s":"r16","w":4160,"v":0.04},
{"s":"r16","w":4130,"v":0.52},{"s":"r16","w":4100,"v":1},{"s":"r16","w":4065,"v":1.54},{"s":"r16","w":4030,"v":2.04},{"s":"r16","w":3992,"v":2.21},{"s":"r16","w":3955,"v":2.07},{"s":"r16","w":3918,"v":1.77},{"s":"r16","w":3880,"v":1.48},{"s":"r16","w":3842,"v":1.26},
{"s":"r18","w":5462,"v":-1.17},{"s":"r18","w":5425,"v":-1.25},{"s":"r18","w":5390,"v":-1.32},{"s":"r18","w":5355,"v":-1.36},{"s":"r18","w":5320,"v":-1.37},{"s":"r18","w":5277,"v":-1.32},{"s":"r18","w":5245,"v":-1.2},{"s":"r18","w":5210,"v":-1.07},{"s":"r18","w":5169,"v":-1.05},{"s":"r18","w":5130,"v":-1.08},{"s":"r18","w":5090,"v":-1.13},{"s":"r18","w":5050,"v":-1.17},{"s":"r18","w":5010,"v":-1.18},{"s":"r18","w":4975,"v":-1.05},{"s":"r18","w":4945,"v":-0.81},
{"s":"r18","w":4915,"v":-0.54},{"s":"r18","w":4883,"v":-0.2},{"s":"r18","w":4850,"v":0.12},{"s":"r18","w":4810,"v":0.4},{"s":"r18","w":4770,"v":0.55},{"s":"r18","w":4740,"v":0.57},{"s":"r18","w":4700,"v":0.55},{"s":"r18","w":4660,"v":0.36},{"s":"r18","w":4610,"v":0.13},{"s":"r18","w":4560,"v":-0.16},{"s":"r18","w":4515,"v":-0.39},{"s":"r18","w":4476,"v":-0.55},{"s":"r18","w":4440,"v":-0.32},{"s":"r18","w":4400,"v":-0.08},{"s":"r18","w":4359,"v":-0.18},{"s":"r18","w":4310,"v":-0.03},{"s":"r18","w":4250,"v":-0.01},{"s":"r18","w":4190,"v":-0.01},{"s":"r18","w":4160,"v":0.06},
{"s":"r18","w":4130,"v":0.54},{"s":"r18","w":4100,"v":1.01},{"s":"r18","w":4065,"v":1.56},{"s":"r18","w":4030,"v":2.05},{"s":"r18","w":3992,"v":2.24},{"s":"r18","w":3955,"v":2.11},{"s":"r18","w":3918,"v":1.81},{"s":"r18","w":3880,"v":1.52},{"s":"r18","w":3842,"v":1.31},
{"s":"r20","w":5462,"v":-1.14},{"s":"r20","w":5425,"v":-1.22},{"s":"r20","w":5390,"v":-1.29},{"s":"r20","w":5355,"v":-1.34},{"s":"r20","w":5320,"v":-1.35},{"s":"r20","w":5277,"v":-1.32},{"s":"r20","w":5245,"v":-1.23},{"s":"r20","w":5210,"v":-1.13},{"s":"r20","w":5169,"v":-1.12},{"s":"r20","w":5130,"v":-1.14},{"s":"r20","w":5090,"v":-1.17},{"s":"r20","w":5050,"v":-1.2},{"s":"r20","w":5010,"v":-1.2},{"s":"r20","w":4975,"v":-1.07},{"s":"r20","w":4945,"v":-0.81},
{"s":"r20","w":4915,"v":-0.49},{"s":"r20","w":4883,"v":-0.14},{"s":"r20","w":4850,"v":0.18},{"s":"r20","w":4810,"v":0.46},{"s":"r20","w":4770,"v":0.62},{"s":"r20","w":4740,"v":0.65},{"s":"r20","w":4700,"v":0.62},{"s":"r20","w":4660,"v":0.45},{"s":"r20","w":4610,"v":0.22},{"s":"r20","w":4560,"v":-0.07},{"s":"r20","w":4515,"v":-0.28},{"s":"r20","w":4476,"v":-0.44},{"s":"r20","w":4440,"v":-0.21},{"s":"r20","w":4400,"v":0.02},{"s":"r20","w":4359,"v":-0.08},{"s":"r20","w":4310,"v":0.07},{"s":"r20","w":4250,"v":0.07},{"s":"r20","w":4190,"v":0.06},{"s":"r20","w":4160,"v":0.13},
{"s":"r20","w":4130,"v":0.5},{"s":"r20","w":4100,"v":0.98},{"s":"r20","w":4065,"v":1.53},{"s":"r20","w":4030,"v":2.02},{"s":"r20","w":3992,"v":2.17},{"s":"r20","w":3955,"v":2.04},{"s":"r20","w":3918,"v":1.74},{"s":"r20","w":3880,"v":1.44},{"s":"r20","w":3842,"v":1.22},
{"s":"r21","w":5462,"v":-1.11},{"s":"r21","w":5425,"v":-1.19},{"s":"r21","w":5390,"v":-1.27},{"s":"r21","w":5355,"v":-1.33},{"s":"r21","w":5320,"v":-1.34},{"s":"r21","w":5277,"v":-1.32},{"s":"r21","w":5245,"v":-1.24},{"s":"r21","w":5210,"v":-1.19},{"s":"r21","w":5169,"v":-1.18},{"s":"r21","w":5130,"v":-1.2},{"s":"r21","w":5090,"v":-1.22},{"s":"r21","w":5050,"v":-1.24},{"s":"r21","w":5010,"v":-1.23},{"s":"r21","w":4975,"v":-1.09},{"s":"r21","w":4945,"v":-0.82},
{"s":"r21","w":4915,"v":-0.41},{"s":"r21","w":4883,"v":-0.04},{"s":"r21","w":4850,"v":0.29},{"s":"r21","w":4810,"v":0.57},{"s":"r21","w":4770,"v":0.74},{"s":"r21","w":4740,"v":0.77},{"s":"r21","w":4700,"v":0.74},{"s":"r21","w":4660,"v":0.6},{"s":"r21","w":4610,"v":0.38},{"s":"r21","w":4560,"v":0.08},{"s":"r21","w":4515,"v":-0.1},{"s":"r21","w":4476,"v":-0.26},{"s":"r21","w":4440,"v":-0.04},{"s":"r21","w":4400,"v":0.17},{"s":"r21","w":4359,"v":0.09},{"s":"r21","w":4310,"v":0.23},{"s":"r21","w":4250,"v":0.21},{"s":"r21","w":4190,"v":0.18},{"s":"r21","w":4160,"v":0.24},
{"s":"r21","w":4130,"v":0.48},{"s":"r21","w":4100,"v":0.97},{"s":"r21","w":4065,"v":1.51},{"s":"r21","w":4030,"v":2.01},{"s":"r21","w":3992,"v":2.14},{"s":"r21","w":3955,"v":2},{"s":"r21","w":3918,"v":1.7},{"s":"r21","w":3880,"v":1.4},{"s":"r21","w":3842,"v":1.17}
]},
"layer":[
{"data":{"values":[{}]},
 "mark":{"type":"rule","color":"#7a7a7a","strokeWidth":1},
 "encoding":{
  "x":{"datum":5462,"type":"quantitative","scale":{"domain":[5462,3842],"nice":false,"zero":false},
       "axis":{"orient":"bottom","tickCount":324,"labels":false,"domain":false,"grid":false,"title":null,"tickSize":3,"tickColor":"#333","tickWidth":0.8}},
  "x2":{"datum":3842},
  "y":{"datum":0,"type":"quantitative","scale":{"domain":[-2,3],"nice":false,"zero":false},
       "axis":{"orient":"left","values":[-2,-1.5,-1,-0.5,0,0.5,1,1.5,2,2.5,3],
        "labelExpr":"datum.value % 1 == 0 ? (datum.value < 0 ? '-' + abs(datum.value) : '' + datum.value) : ''",
        "labelFont":"Liberation Serif, Times New Roman, serif","labelFontSize":21,"labelColor":"#000","labelPadding":4,
        "tickSize":5,"tickColor":"#000",
        "domainColor":"#000","domainWidth":1,"grid":false,
        "title":"Apsorbancija (AU)","titleFont":"Liberation Serif, Times New Roman, serif","titleFontSize":27,"titleFontWeight":"normal","titleColor":"#000",
        "titleX":-51,"titleY":317,"titleBaseline":"alphabetic"}}
 }},
{"mark":{"type":"line","interpolate":"monotone","strokeWidth":1.6},
 "encoding":{
  "x":{"field":"w","type":"quantitative","scale":{"domain":[5462,3842],"nice":false,"zero":false},
       "axis":{"orient":"bottom","values":[5462,5384,5307,5230,5153,5076,4999,4922,4844,4767,4690,4613,4536,4459,4382,4304,4227,4150,4073,3996,3919,3842],
        "format":"d","labelFont":"Liberation Serif, Times New Roman, serif","labelFontSize":21,"labelColor":"#000","labelPadding":8,"labelFlush":false,"labelOverlap":false,
        "tickSize":3,"tickColor":"#333","domainColor":"#000","domainWidth":1,"grid":false,
        "title":"Valni broj (cm⁻¹)","titleFont":"Liberation Serif, Times New Roman, serif","titleFontSize":25,"titleFontWeight":"normal","titleColor":"#000","titleY":63,"titleBaseline":"alphabetic"}},
  "y":{"field":"v","type":"quantitative","scale":{"domain":[-2,3],"nice":false,"zero":false},
       "axis":{"orient":"left","values":[-2,-1.5,-1,-0.5,0,0.5,1,1.5,2,2.5,3],
        "labelExpr":"datum.value % 1 == 0 ? (datum.value < 0 ? '-' + abs(datum.value) : '' + datum.value) : ''",
        "labelFont":"Liberation Serif, Times New Roman, serif","labelFontSize":21,"labelColor":"#000","labelPadding":4,
        "tickSize":5,"tickColor":"#000",
        "domainColor":"#000","domainWidth":1,"grid":false,
        "title":"Apsorbancija (AU)","titleFont":"Liberation Serif, Times New Roman, serif","titleFontSize":27,"titleFontWeight":"normal","titleColor":"#000",
        "titleX":-51,"titleY":317,"titleBaseline":"alphabetic"}},
  "color":{"field":"s","type":"nominal","legend":null,
   "scale":{"domain":["b01","b02","b04","b06","b08","b10","b13","b15","b17","b19","b22","r03","r05","r07","r09","r11","r12","r14","r16","r18","r20","r21"],
            "range":["#1e1e8c","#1e1e8c","#1e1e8c","#1e1e8c","#1e1e8c","#1e1e8c","#1e1e8c","#1e1e8c","#1e1e8c","#1e1e8c","#1e1e8c","#ff1414","#ff1414","#ff1414","#ff1414","#ff1414","#ff1414","#ff1414","#ff1414","#ff1414","#ff1414","#ff1414"]}}
 }}
],
"resolve":{"axis":{"x":"independent"}}
}
